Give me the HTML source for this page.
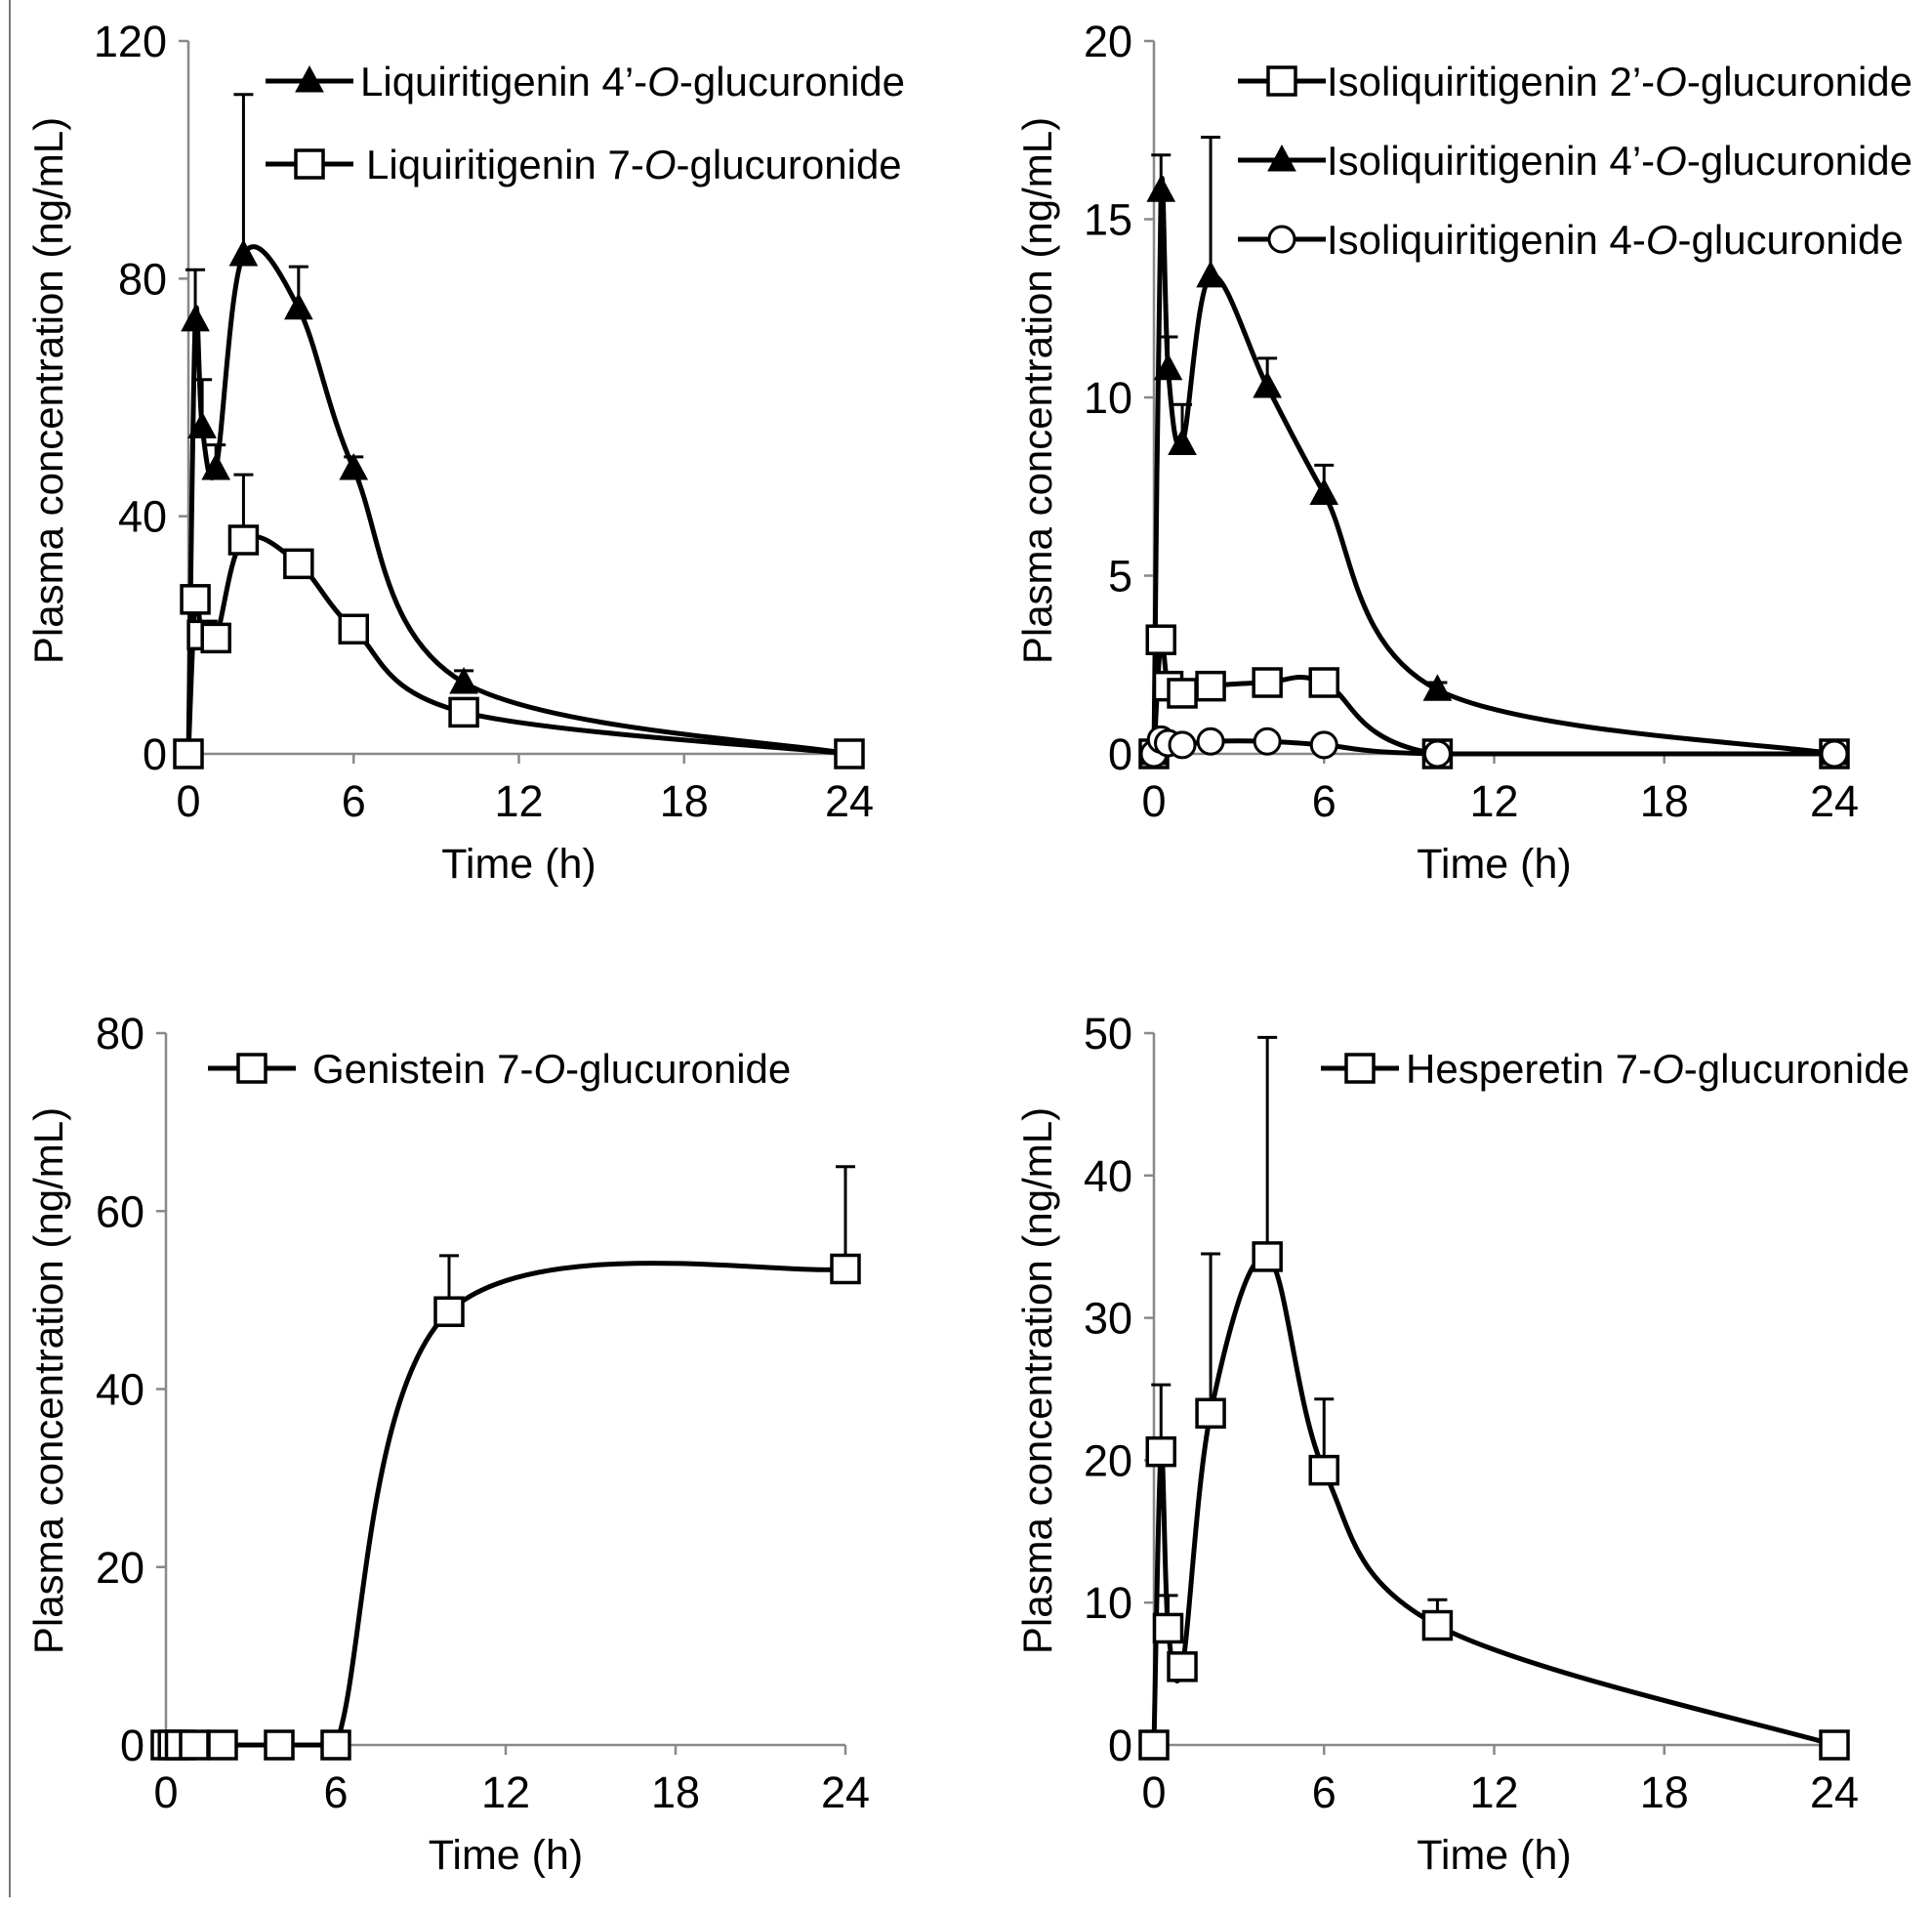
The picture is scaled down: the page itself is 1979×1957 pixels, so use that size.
<!DOCTYPE html>
<html><head><meta charset="utf-8"><style>
html,body{margin:0;padding:0;background:#fff}
svg{display:block}
text{font-family:"Liberation Sans",Arial,sans-serif;fill:#000}
</style></head><body>
<svg id="fig" width="1979" height="1957" viewBox="0 0 1979 1957" xmlns="http://www.w3.org/2000/svg">
<line x1="10" y1="0" x2="10" y2="1943" stroke="#777" stroke-width="2"/>
</svg>
<script>
const times = [0, 0.25, 0.5, 1, 2, 4, 6, 10, 24];
const xTicks = [0, 6, 12, 18, 24];
// Panel A
const liq4G = [0, 73, 55, 48, 84, 75, 48, 12, 0];
const liq4GErr = [0, 8.5, 8, 4, 27, 7, 2, 2, 0];
const liq7G = [0, 26, 20, 19.5, 36, 32, 21, 7, 0];
const liq7GErr = [0, 0, 0, 0, 11, 0, 0, 0, 0];
const yTicksA = [0, 40, 80, 120];
// Panel B
const iso2G = [0, 3.2, 1.9, 1.7, 1.9, 2.0, 2.0, 0, 0];
const iso2GErr = [0, 0, 0, 0, 0, 0, 0, 0, 0];
const iso4pG = [0, 15.8, 10.8, 8.7, 13.4, 10.3, 7.3, 1.8, 0];
const iso4pGErr = [0, 1.0, 0.9, 1.1, 3.9, 0.8, 0.8, 0.2, 0];
const iso4G = [0, 0.4, 0.3, 0.25, 0.35, 0.35, 0.25, 0, 0];
const iso4GErr = [0, 0, 0, 0, 0, 0, 0, 0, 0];
const yTicksB = [0, 5, 10, 15, 20];
// Panel C
const gen7G = [0, 0, 0, 0, 0, 0, 0, 48.7, 53.5];
const gen7GErr = [0, 1, 1, 0, 0, 0, 0, 6.3, 11.5];
const yTicksC = [0, 20, 40, 60, 80];
// Panel D
const hes7G = [0, 20.6, 8.2, 5.5, 23.3, 34.3, 19.3, 8.4, 0];
const hes7GErr = [0, 4.7, 2.3, 0, 11.2, 15.4, 5, 1.8, 0];
const yTicksD = [0, 10, 20, 30, 40, 50];

const NS = 'http://www.w3.org/2000/svg';
const svg = document.getElementById('fig');
function mk(tag, attrs, parent) {
  const e = document.createElementNS(NS, tag);
  for (const k in attrs) e.setAttribute(k, attrs[k]);
  (parent || svg).appendChild(e);
  return e;
}
function smoothPath(pts, yBase) {
  let d = 'M' + pts[0][0] + ',' + pts[0][1];
  const cl = y => Math.min(y, yBase);
  for (let i = 0; i < pts.length - 1; i++) {
    const p0 = pts[Math.max(0, i - 1)], p1 = pts[i], p2 = pts[i + 1], p3 = pts[Math.min(pts.length - 1, i + 2)];
    const t = 1 / 6;
    const c1 = [p1[0] + (p2[0] - p0[0]) * t, cl(p1[1] + (p2[1] - p0[1]) * t)];
    const c2 = [p2[0] - (p3[0] - p1[0]) * t, cl(p2[1] - (p3[1] - p1[1]) * t)];
    d += ' C' + c1[0] + ',' + c1[1] + ' ' + c2[0] + ',' + c2[1] + ' ' + p2[0] + ',' + p2[1];
  }
  return d;
}
function marker(g, type, x, y) {
  let e;
  if (type === 'square') e = mk('rect', {x: x - 14, y: y - 14, width: 28, height: 28, fill: '#fff', stroke: '#000', 'stroke-width': 3.5}, g);
  else if (type === 'triangle') e = mk('polygon', {points: (x) + ',' + (y - 15) + ' ' + (x - 14) + ',' + (y + 11) + ' ' + (x + 14) + ',' + (y + 11), fill: '#000', stroke: '#000', 'stroke-width': 1}, g);
  else e = mk('circle', {cx: x, cy: y, r: 13, fill: '#fff', stroke: '#000', 'stroke-width': 3}, g);
  
  
}
function panel(cfg) {
  const g = mk('g', {});
  
  
  const X = v => cfg.x0 + (v / 24) * (cfg.x1 - cfg.x0);
  const yMax = cfg.yTicks[cfg.yTicks.length - 1];
  const Y = v => cfg.y0 - (v / yMax) * (cfg.y0 - cfg.y1);
  const ya = mk('line', {x1: cfg.x0, y1: cfg.y0, x2: cfg.x0, y2: cfg.y1, stroke: '#888', 'stroke-width': 2.5}, g);
  
  
  const xa = mk('line', {x1: cfg.x0, y1: cfg.y0, x2: cfg.x1, y2: cfg.y0, stroke: '#888', 'stroke-width': 2.5}, g);
  
  
  cfg.yTicks.forEach(v => {
    mk('line', {x1: cfg.x0 - 10, y1: Y(v), x2: cfg.x0, y2: Y(v), stroke: '#888', 'stroke-width': 2.5}, g);
    const t = mk('text', {x: cfg.x0 - 22, y: Y(v) + 16, 'font-size': 45, 'text-anchor': 'end'}, g);
    
    
    t.textContent = v;
  });
  xTicks.forEach(v => {
    mk('line', {x1: X(v), y1: cfg.y0, x2: X(v), y2: cfg.y0 + 10, stroke: '#888', 'stroke-width': 2.5}, g);
    const t = mk('text', {x: X(v), y: cfg.y0 + 64, 'font-size': 45, 'text-anchor': 'middle'}, g);
    
    
    t.textContent = v;
  });
  const xt = mk('text', {x: (cfg.x0 + cfg.x1) / 2, y: cfg.y0 + 127, 'font-size': 43, 'text-anchor': 'middle'}, g);
  
  
  xt.textContent = 'Time (h)';
  const ycx = cfg.ytx, ycy = cfg.yty;
  const yt = mk('text', {x: ycx, y: ycy, 'font-size': 42, 'text-anchor': 'middle', transform: 'rotate(-90 ' + ycx + ' ' + ycy + ')'}, g);
  
  
  yt.textContent = 'Plasma concentration (ng/mL)';
  cfg.series.forEach(s => {
    s.vals.forEach((v, i) => {
      if (!s.err[i]) return;
      const x = X(times[i]), yt0 = Y(v + s.err[i]);
      const e = mk('path', {d: 'M' + x + ',' + Y(v) + ' V' + yt0 + ' M' + (x - 10) + ',' + yt0 + ' H' + (x + 10), stroke: '#000', 'stroke-width': 3, fill: 'none'}, g);
      
      
    });
  });
  cfg.series.forEach(s => {
    const pts = s.vals.map((v, i) => [X(times[i]), Y(v)]);
    const p = mk('path', {d: smoothPath(pts, cfg.y0), stroke: '#000', 'stroke-width': 5, fill: 'none'}, g);
    
    
  });
  cfg.series.forEach(s => {
    s.vals.forEach((v, i) => marker(g, s.marker, X(times[i]), Y(v)));
  });
  const L = cfg.legLen || 90;
  cfg.series.forEach((s, i) => {
    const ly = cfg.legY + i * cfg.legDy;
    const lg = mk('g', {}, g);
    
    
    mk('line', {x1: cfg.legX, y1: ly, x2: cfg.legX + L, y2: ly, stroke: '#000', 'stroke-width': 5}, lg);
    marker(lg, s.marker, cfg.legX + L / 2, ly);
    const t = mk('text', {x: cfg.legX + L + 7 + (s.pad || 0), y: ly + 15, 'font-size': 42}, lg);
    t.innerHTML = s.label;
  });
}
const O = '<tspan font-style="italic">O</tspan>';
panel({name: 'panel-liquiritigenin', x0: 193, x1: 870, y0: 772, y1: 42, yTicks: yTicksA, legX: 272, legY: 83, legDy: 85, ytx: 64, yty: 400,
  series: [
    {key: 'liquiritigenin-4-glucuronide', vals: liq4G, err: liq4GErr, marker: 'triangle', label: 'Liquiritigenin 4’-' + O + '-glucuronide'},
    {key: 'liquiritigenin-7-glucuronide', vals: liq7G, err: liq7GErr, marker: 'square', label: 'Liquiritigenin 7-' + O + '-glucuronide', pad: 6}
  ]});
panel({name: 'panel-isoliquiritigenin', x0: 1182, x1: 1879, y0: 772, y1: 42, yTicks: yTicksB, legX: 1268, legY: 83, legDy: 81, ytx: 1077, yty: 400,
  series: [
    {key: 'isoliquiritigenin-2-glucuronide', vals: iso2G, err: iso2GErr, marker: 'square', label: 'Isoliquiritigenin 2’-' + O + '-glucuronide', pad: -6},
    {key: 'isoliquiritigenin-4p-glucuronide', vals: iso4pG, err: iso4pGErr, marker: 'triangle', label: 'Isoliquiritigenin 4’-' + O + '-glucuronide', pad: -6},
    {key: 'isoliquiritigenin-4-glucuronide', vals: iso4G, err: iso4GErr, marker: 'circle', label: 'Isoliquiritigenin 4-' + O + '-glucuronide', pad: -6}
  ]});
panel({name: 'panel-genistein', x0: 170, x1: 866, y0: 1787, y1: 1058, yTicks: yTicksC, legX: 213, legY: 1094, legDy: 80, ytx: 64, yty: 1414,
  series: [
    {key: 'genistein-7-glucuronide', vals: gen7G, err: gen7GErr, marker: 'square', label: 'Genistein 7-' + O + '-glucuronide', pad: 10}
  ]});
panel({name: 'panel-hesperetin', x0: 1182, x1: 1879, y0: 1787, y1: 1058, yTicks: yTicksD, legX: 1353, legY: 1094, legDy: 80, legLen: 80, ytx: 1077, yty: 1414,
  series: [
    {key: 'hesperetin-7-glucuronide', vals: hes7G, err: hes7GErr, marker: 'square', label: 'Hesperetin 7-' + O + '-glucuronide', pad: 0}
  ]});
</script>
</body></html>
